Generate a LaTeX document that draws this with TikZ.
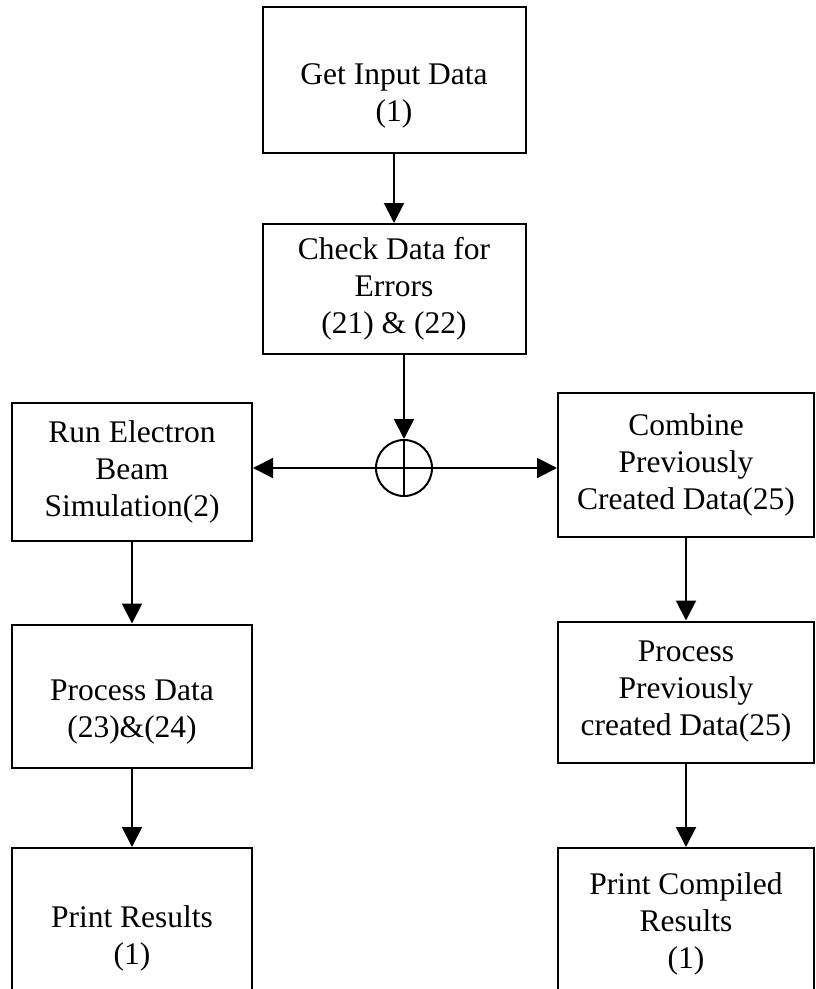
\documentclass[tikz,border=0pt]{standalone}
\usepackage{fontspec}
\setmainfont{Liberation Serif}
\usetikzlibrary{arrows.meta}
\tikzset{
 box/.style={draw,line width=2pt,align=center,inner sep=0pt,font=\fontsize{31.5}{37}\selectfont},
 conn/.style={->,>={Triangle[width=20pt,length=20pt]},line width=2pt}
}
\newcommand{\mv}[2]{\raisebox{#1}[\height][\depth]{\begin{tabular}{@{}c@{}}#2\end{tabular}}}
\begin{document}
\begin{tikzpicture}[x=1pt,y=-1pt]
 \useasboundingbox (0,0) rectangle (815,989);
 \node[box,minimum width=263pt,minimum height=146pt] (input) at (394,80) {\mv{-16pt}{Get Input Data\\(1)}}; %入力
 \node[box,minimum width=263pt,minimum height=130pt] (check) at (394,289) {Check Data for\\Errors\\(21) \& (22)};
 \node[draw,circle,line width=2pt,minimum size=56pt,inner sep=0pt] (sum) at (404,468) {}; %分岐
 \draw[line width=2pt] (sum.north)--(sum.south) (sum.west)--(sum.east);
 \node[box,minimum width=240pt,minimum height=138pt] (run) at (132,472) {Run Electron\\Beam\\Simulation(2)}; %左列
 \node[box,minimum width=240pt,minimum height=143pt] (procL) at (132,696) {\mv{-16pt}{Process Data\\(23)\&(24)}};
 \node[box,minimum width=240pt,minimum height=180pt] (printL) at (132,938) {Print Results\\(1)};
 \node[box,minimum width=256pt,minimum height=144pt] (combine) at (686,465) {Combine\\Previously\\Created Data(25)}; %右列
 \node[box,minimum width=256pt,minimum height=141pt] (procR) at (686,692) {Process\\Previously\\created Data(25)};
 \node[box,minimum width=256pt,minimum height=180pt] (printR) at (686,938) {\mv{14pt}{Print Compiled\\Results\\(1)}};
 \draw[conn] (input)--(check); %矢印
 \draw[conn] (sum.north |- check.south)--(sum.north);
 \draw[conn] (sum.west)--(sum.west -| run.east);
 \draw[conn] (sum.east)--(sum.east -| combine.west);
 \draw[conn] (run)--(procL);
 \draw[conn] (procL)--(printL);
 \draw[conn] (combine)--(procR);
 \draw[conn] (procR)--(printR);
\end{tikzpicture}
\end{document}
